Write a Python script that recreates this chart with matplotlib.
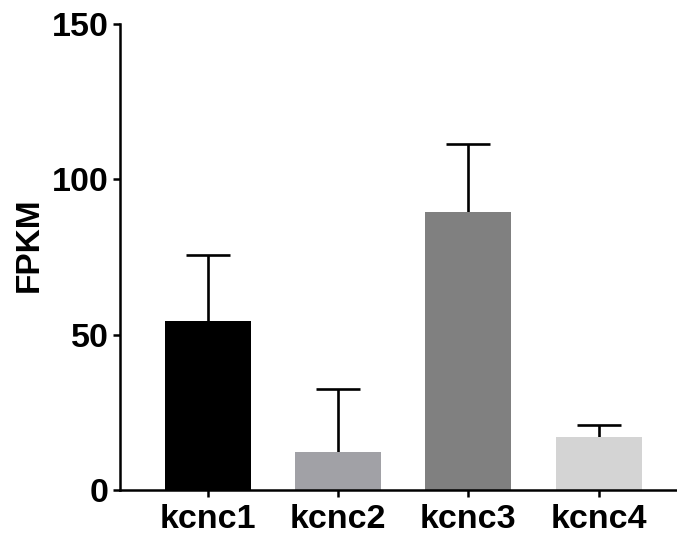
import matplotlib
matplotlib.use("Agg")
import matplotlib.pyplot as plt

categories = ["kcnc1", "kcnc2", "kcnc3", "kcnc4"]
means = [54.4, 12.2, 89.4, 16.9]
errors_up = [21.2, 20.2, 21.9, 3.9]
colors = ["#000000", "#a1a1a6", "#808080", "#d4d4d4"]
yticks = [0, 50, 100, 150]

plt.rcParams['font.family'] = ['Liberation Sans', 'DejaVu Sans']
plt.rcParams['font.weight'] = 'bold'

fig = plt.figure(figsize=(6.77, 5.39), dpi=100)
ax = fig.add_axes([0.177, 0.091, 0.823, 0.864])

x = list(range(len(categories)))
ax.bar(x, means, width=0.66, color=colors, zorder=2)
_, caps, _ = ax.errorbar(x, means, yerr=[[0]*len(means), errors_up], fmt='none',
                         ecolor='black', elinewidth=1.9, capsize=15.5, capthick=1.9, zorder=1)
# only upper caps are shown
caps[0].set_visible(False)

ax.set_xlim(-0.674, 3.6)
ax.set_ylim(0, 150)
ax.set_yticks(yticks)
ax.set_xticks(x)
ax.set_xticklabels(categories, fontsize=24.5, fontweight='bold')
ax.set_yticklabels([str(t) for t in yticks], fontsize=24.5, fontweight='bold')
ax.set_ylabel("FPKM", fontsize=24, fontweight='bold')
ax.yaxis.label.set_va('center')
ax.yaxis.set_label_coords(-0.163, 0.526)

for s in ['top', 'right']:
    ax.spines[s].set_visible(False)
for s in ['left', 'bottom']:
    ax.spines[s].set_linewidth(1.8)
ax.spines['bottom'].set_zorder(3)
ax.tick_params(axis='both', direction='out', length=5, width=1.8, pad=3)
ax.tick_params(axis='x', pad=5)

fig.savefig("out.png", dpi=100)
